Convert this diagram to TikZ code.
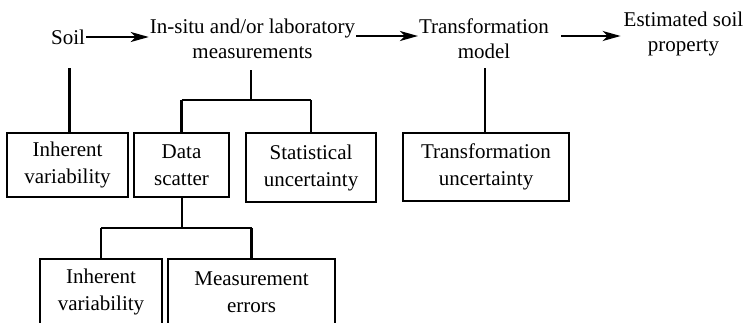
\documentclass[tikz,border=0pt]{standalone}
\usepackage{fontspec}
\setmainfont{Liberation Serif}
\usetikzlibrary{arrows.meta}
\begin{document}
\begin{tikzpicture}[x=1pt,y=-1pt,line width=2.2pt,
  label/.style={inner sep=0pt,align=center,font=\fontsize{21}{25}\selectfont},
  boxnode/.style={draw,inner sep=0pt,align=center,font=\fontsize{21}{27}\selectfont},
  arr/.style={-{Stealth[length=18pt,width=10pt,inset=5pt]}}]
\useasboundingbox (0,0) rectangle (745,322);
\clip (0,0) rectangle (745,322);

% chain of main steps
\node[label] (soil) at (68,37) {Soil};
\node[label] (insitu) at (252.5,39) {In-situ and/or laboratory\\measurements};
\node[label] (trans) at (484,38.5) {Transformation\\model};
\node[label] (est) at (683.5,34) {Estimated soil\\property};

\draw[arr] (soil.east) -- (insitu.west |- soil.east);
\draw[arr] (insitu.east |- 0,36) -- (trans.west |- 0,36);
\draw[arr] ([xshift=11pt]trans.east |- 0,36) -- ([xshift=-2pt]est.west |- 0,36);

% sources of uncertainty
\node[boxnode,minimum width=121pt,minimum height=64pt] (iv1) at (67.5,165) {Inherent\\variability};
\node[boxnode,minimum width=95pt,minimum height=64pt] (ds) at (181.5,165) {Data\\scatter};
\node[boxnode,minimum width=130pt,minimum height=69pt] (su) at (311,167.5) {Statistical\\uncertainty};
\node[boxnode,minimum width=166pt,minimum height=68pt] (tu) at (486,167) {Transformation\\uncertainty};
\node[boxnode,minimum width=122pt,minimum height=66pt] (iv2) at (101,292) {Inherent\\variability};
\node[boxnode,minimum width=167pt,minimum height=66pt] (me) at (251.5,292) {Measurement\\errors};

% connectors
\coordinate (soilstem) at (69.5,68);
\coordinate (insitustem) at (251,70);
\coordinate (transstem) at (485,68);
\coordinate (mbranch) at (251,100);
\coordinate (dbranch) at (182,228);

\draw (soilstem) -- (soilstem |- iv1.north);
\draw (transstem) -- (transstem |- tu.north);
\draw (insitustem) -- (mbranch);
\draw (ds.north |- mbranch) -- (ds.north);
\draw (su.north |- mbranch) -- (su.north);
\draw (ds.north |- mbranch) -- (su.north |- mbranch);
\draw (dbranch |- ds.south) -- (dbranch);
\draw (iv2.north |- dbranch) -- (me.north |- dbranch);
\draw (iv2.north |- dbranch) -- (iv2.north);
\draw (me.north |- dbranch) -- (me.north);
\end{tikzpicture}
\end{document}
